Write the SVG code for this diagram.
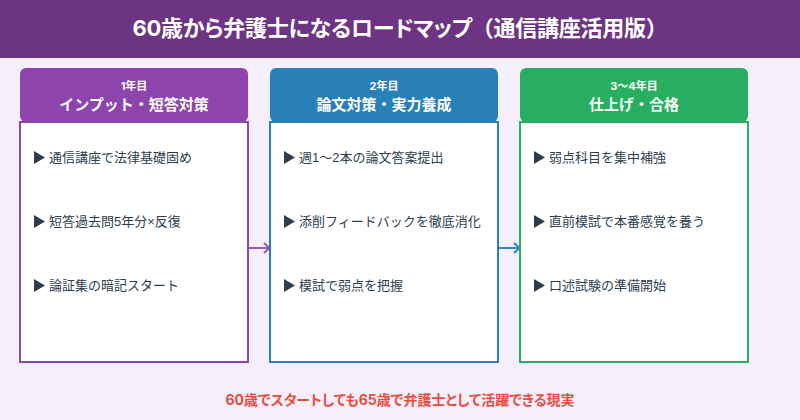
<svg xmlns="http://www.w3.org/2000/svg" width="800" height="420" viewBox="0 0 800 420">
<style>
text{font-family:"Inter","Noto Sans CJK JP",sans-serif}
.t{font-size:22px;font-weight:700;fill:#fff;text-anchor:middle;font-feature-settings:"palt";letter-spacing:-.25px}
.w{font-feature-settings:normal}
.y{font-size:11px;font-weight:700;fill:#fff;text-anchor:middle}
.h{font-size:15px;font-weight:700;fill:#fff;text-anchor:middle}
.i{font-size:13px;fill:#2c3e50;font-family:"Liberation Sans","Noto Sans CJK JP",sans-serif}
.f{font-size:14px;font-weight:700;fill:#e74c3c;text-anchor:middle;font-feature-settings:"palt"}
.b{fill:#fff;stroke-width:2}
.tri{fill:#2c3e50}
.c{fill:none;stroke-width:2}
</style>
<defs>
<marker id="a1" markerWidth="9" markerHeight="12" refX="8" refY="6" orient="auto" markerUnits="userSpaceOnUse"><path d="M2 1L7.500 6L2 11" fill="none" stroke="#9b59b6" stroke-width="2"/></marker>
<marker id="a2" markerWidth="9" markerHeight="12" refX="8" refY="6" orient="auto" markerUnits="userSpaceOnUse"><path d="M2 1L7.500 6L2 11" fill="none" stroke="#2e86c1" stroke-width="2"/></marker>
<path id="tr" d="M0 0L11 6.500L0 13Z"/>
</defs>
<rect width="800" height="420" fill="#f5eefb"/>
<g id="title"><rect width="800" height="58" fill="#6c3483"/><text class="t" x="400" y="36">60歳から弁護士になるロードマップ<tspan class="w">（</tspan>通信講座活用版<tspan class="w">）</tspan></text></g>
<g id="connectors">
<path class="c" d="M248 248H270" stroke="#9b59b6" marker-end="url(#a1)"/>
<path class="c" d="M498 248H520" stroke="#2e86c1" marker-end="url(#a2)"/>
</g>
<g id="col1">
<rect class="b" x="20" y="122" width="228" height="240" stroke="#8e44ad"/>
<rect x="20" y="68" width="228" height="54" rx="6" fill="#8e44ad"/>
<text class="y" x="134" y="90">1年目</text><text class="h" x="134" y="110">インプット・短答対策</text>
<use href="#tr" class="tri" x="34" y="151"/><text class="i" x="49" y="162">通信講座で法律基礎固め</text>
<use href="#tr" class="tri" x="34" y="215"/><text class="i" x="49" y="226">短答過去問5年分×反復</text>
<use href="#tr" class="tri" x="34" y="279"/><text class="i" x="49" y="290">論証集の暗記スタート</text>
</g>
<g id="col2">
<rect class="b" x="270" y="122" width="228" height="240" stroke="#2980b9"/>
<rect x="270" y="68" width="228" height="54" rx="6" fill="#2980b9"/>
<text class="y" x="384" y="90">2年目</text><text class="h" x="384" y="110">論文対策・実力養成</text>
<use href="#tr" class="tri" x="284" y="151"/><text class="i" x="299" y="162">週1〜2本の論文答案提出</text>
<use href="#tr" class="tri" x="284" y="215"/><text class="i" x="299" y="226">添削フィードバックを徹底消化</text>
<use href="#tr" class="tri" x="284" y="279"/><text class="i" x="299" y="290">模試で弱点を把握</text>
</g>
<g id="col3">
<rect class="b" x="520" y="122" width="228" height="240" stroke="#27ae60"/>
<rect x="520" y="68" width="228" height="54" rx="6" fill="#27ae60"/>
<text class="y" x="634" y="90">3〜4年目</text><text class="h" x="634" y="110">仕上げ・合格</text>
<use href="#tr" class="tri" x="534" y="151"/><text class="i" x="549" y="162">弱点科目を集中補強</text>
<use href="#tr" class="tri" x="534" y="215"/><text class="i" x="549" y="226">直前模試で本番感覚を養う</text>
<use href="#tr" class="tri" x="534" y="279"/><text class="i" x="549" y="290">口述試験の準備開始</text>
</g>
<g id="footer"><text class="f" x="400" y="405">60歳でスタートしても65歳で弁護士として活躍できる現実</text></g>
</svg>
